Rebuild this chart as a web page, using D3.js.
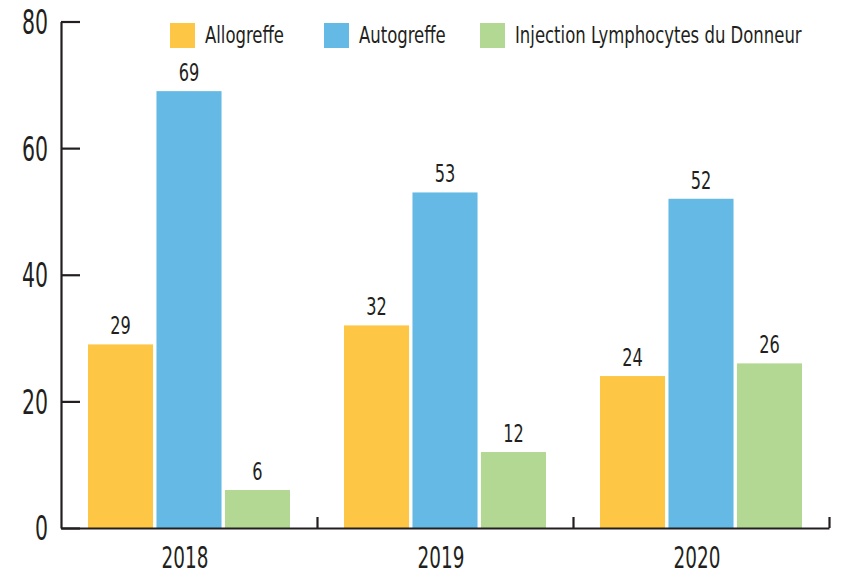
<!DOCTYPE html>
<html>
<head>
<meta charset="utf-8">
<script src="https://cdn.jsdelivr.net/npm/d3@7"></script>
<style>
  body { margin: 0; background: #fff; }
  svg text { font-family: "DejaVu Sans Condensed", sans-serif; fill: #231f20; }
</style>
</head>
<body>
<svg width="842" height="574"></svg>
<script>
// data
var years = ["2018", "2019", "2020"];
var series = ["Allogreffe", "Autogreffe", "Injection Lymphocytes du Donneur"];
var allogreffe = [29, 32, 24];
var autogreffe = [69, 53, 52];
var injection = [6, 12, 26];
var yTicks = [0, 20, 40, 60, 80];
var colors = ["#fdc745", "#65b9e5", "#b3d893"];

var values = [allogreffe, autogreffe, injection];

var svg = d3.select("svg");

// scales
var x = d3.scaleBand().domain(years).range([61, 829]);
var xSub = d3.scaleBand().domain(series).range([27, 229]).paddingInner(0.05);
var y = d3.scaleLinear().domain([0, 80]).range([528, 21.5]);
var xEdge = d3.scaleLinear().domain([0, 3]).range([61, 829]);

// bars
var groups = svg.append("g").selectAll("g")
	.data(years)
	.enter().append("g")
		.attr("transform", function(d) { return "translate(" + x(d) + ",0)"; });

groups.selectAll("rect")
	.data(function(d, i) { return series.map(function(s, j) { return { s: s, v: values[j][i], c: colors[j] }; }); })
	.enter().append("rect")
		.attr("x", function(d) { return xSub(d.s); })
		.attr("y", function(d) { return y(d.v); })
		.attr("width", xSub.bandwidth())
		.attr("height", function(d) { return y(0) - y(d.v); })
		.attr("fill", function(d) { return d.c; });

// value labels (glyphs squeezed to look like the condensed face of the original)
groups.selectAll("g.lbl")
	.data(function(d, i) { return series.map(function(s, j) { return { s: s, v: values[j][i] }; }); })
	.enter().append("g")
		.attr("class", "lbl")
		.attr("transform", function(d) { return "translate(" + (xSub(d.s) + xSub.bandwidth() / 2) + "," + (y(d.v) - 10) + ")"; })
	.append("text")
		.attr("transform", "scale(0.72,1)")
		.attr("text-anchor", "middle")
		.style("font-size", "25px")
		.text(function(d) { return d.v; });

// y axis, ticks pointing inward
var yaxis = svg.append("g")
	.attr("transform", "translate(61,0)")
	.call(d3.axisLeft(y).tickValues(yTicks).tickSize(-19).tickSizeOuter(0).tickPadding(13 / 0.69));
yaxis.selectAll("path, line").attr("stroke", "#231f20").attr("stroke-width", 2.2);
yaxis.selectAll("text")
	.attr("transform", "scale(0.69,1)")
	.attr("dy", "0.36em")
	.style("font-size", "33px");

// x axis line with boundary ticks
var xedge = svg.append("g")
	.attr("transform", "translate(0,528)")
	.call(d3.axisBottom(xEdge).tickValues([1, 2, 3]).tickSize(-11).tickSizeOuter(0).tickFormat(""));
xedge.selectAll("path, line").attr("stroke", "#231f20").attr("stroke-width", 2.2);

// year labels
var xaxis = svg.append("g")
	.attr("transform", "translate(-4,528)")
	.call(d3.axisBottom(x).tickSize(0).tickPadding(18));
xaxis.select(".domain").remove();
xaxis.selectAll("text")
	.attr("transform", "scale(0.66,1)")
	.attr("dy", "0.71em")
	.style("font-size", "31px");

// legend
var legendX = [170, 324, 480];
var legend = svg.append("g").selectAll("g")
	.data(series)
	.enter().append("g")
		.attr("transform", function(d, i) { return "translate(" + legendX[i] + ",23)"; });
legend.append("rect")
	.attr("width", 25)
	.attr("height", 25)
	.attr("fill", function(d, i) { return colors[i]; });
legend.append("text")
	.attr("transform", "translate(35,20) scale(0.78,1)")
	.style("font-size", "23.5px")
	.text(function(d) { return d; });
</script>
</body>
</html>
